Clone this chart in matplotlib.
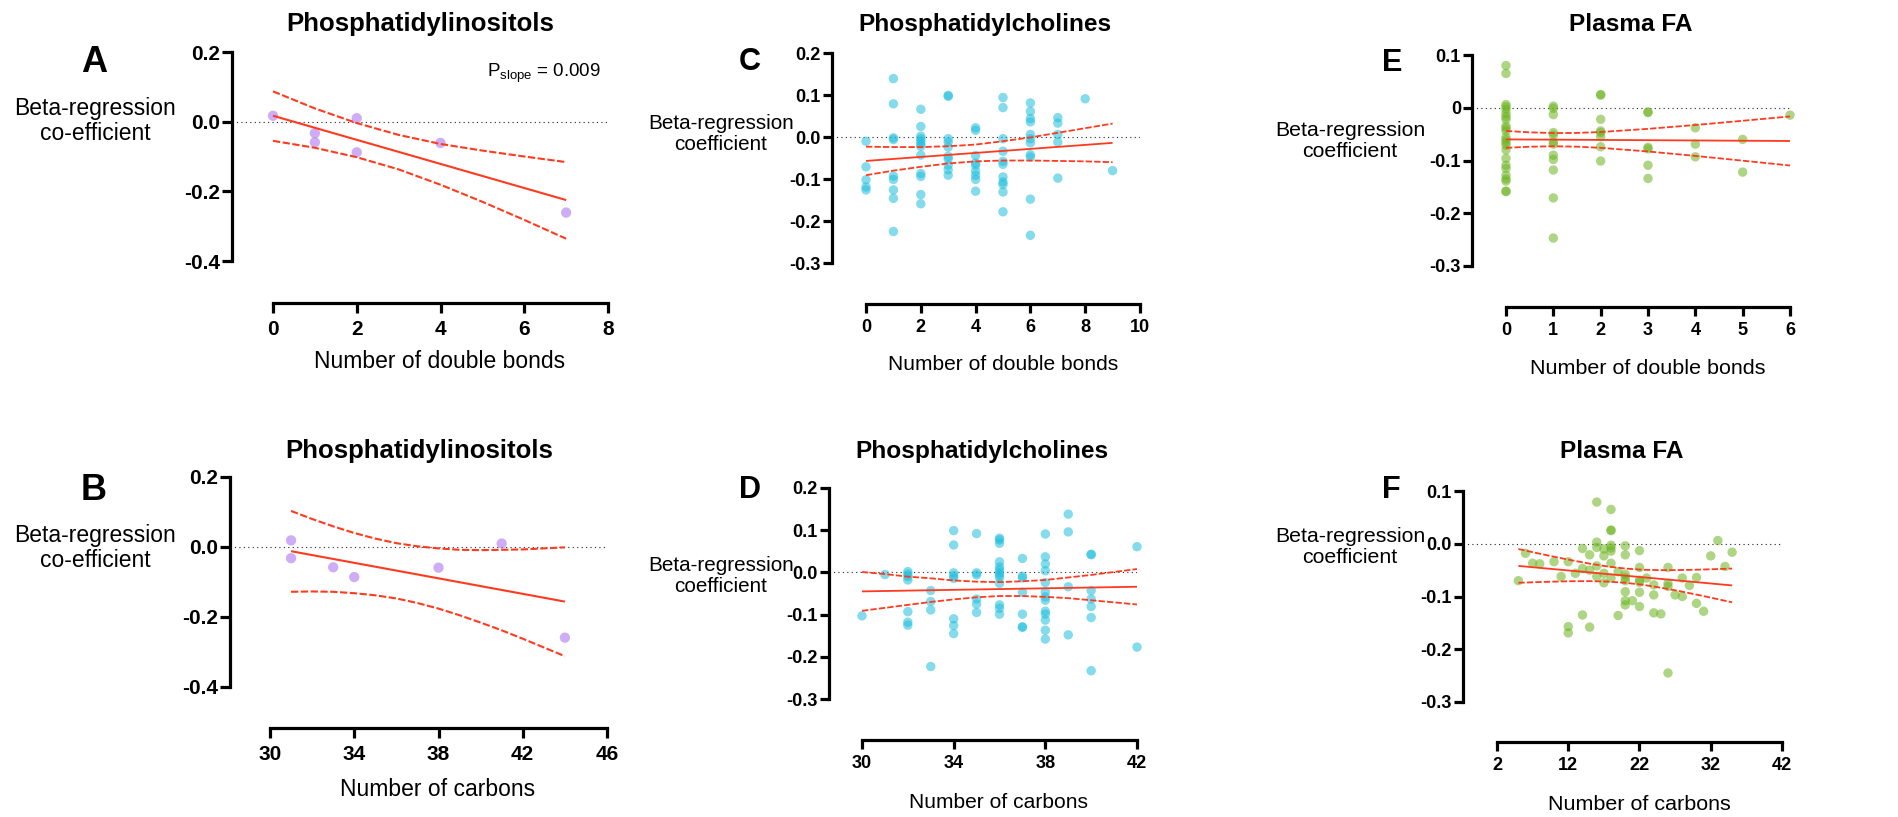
import matplotlib
matplotlib.use('Agg')
import matplotlib.pyplot as plt
from matplotlib import font_manager

W, H = 1899, 817
plt.rcParams['font.family'] = ['Liberation Sans', 'DejaVu Sans']
plt.rcParams['mathtext.fontset'] = 'custom'
plt.rcParams['mathtext.rm'] = 'Liberation Sans'
plt.rcParams['mathtext.it'] = 'Liberation Sans:italic'
plt.rcParams['mathtext.bf'] = 'Liberation Sans:bold'

_names = {f.name for f in font_manager.fontManager.ttflist}
HAS_NARROW = 'Liberation Sans Narrow' in _names
NARROW_FAM = ['Liberation Sans Narrow', 'Liberation Sans', 'DejaVu Sans'] if HAS_NARROW else ['Liberation Sans', 'DejaVu Sans']
# size factor for the condensed right-hand panels
NS = 1.0 if HAS_NARROW else 0.9

# ---------------- data ----------------
# Phosphatidylinositols
pi_db_x = [0, 1, 1, 2, 2, 4, 7]
pi_db_y = [0.017, -0.033, -0.059, 0.010, -0.088, -0.061, -0.261]
pi_db_fit_x = [0, 7]
pi_db_fit_y = [0.017, -0.225]
pi_db_band_x = [0, 1, 2, 3, 4, 5, 6, 7]
pi_db_band_up = [0.087, 0.038, -0.004, -0.038, -0.064, -0.083, -0.100, -0.116]
pi_db_band_lo = [-0.055, -0.075, -0.102, -0.137, -0.181, -0.230, -0.282, -0.336]

pi_c_x = [31, 31, 33, 34, 38, 41, 44]
pi_c_y = [0.019, -0.032, -0.058, -0.086, -0.059, 0.010, -0.259]
pi_c_fit_x = [31, 44]
pi_c_fit_y = [-0.012, -0.156]
pi_c_band_x = [31, 32, 33, 34, 35, 36, 37, 38, 39, 40, 41, 42, 43, 44]
pi_c_band_up = [0.103, 0.080, 0.059, 0.040, 0.024, 0.011, 0.002, -0.004, -0.008, -0.009, -0.008, -0.007, -0.004, -0.001]
pi_c_band_lo = [-0.128, -0.127, -0.128, -0.132, -0.138, -0.147, -0.160, -0.176, -0.195, -0.216, -0.238, -0.262, -0.287, -0.312]

# Phosphatidylcholines
pc_db_x = [0, 0, 0, 0, 0,
           1, 1, 1, 1, 1, 1, 1, 1, 1,
           2, 2, 2, 2, 2, 2, 2, 2, 2, 2, 2, 2,
           3, 3, 3, 3, 3, 3, 3, 3, 3, 3,
           4, 4, 4, 4, 4, 4, 4, 4, 4,
           5, 5, 5, 5, 5, 5, 5, 5, 5, 5, 5,
           6, 6, 6, 6, 6, 6, 6, 6, 6, 6, 6,
           7, 7, 7, 7, 7,
           8,
           9]
pc_db_y = [-0.010, -0.071, -0.102, -0.119, -0.126,
           0.139, 0.079, -0.002, -0.006, -0.093, -0.101, -0.126, -0.146, -0.225,
           0.066, 0.025, 0.002, -0.004, -0.010, -0.016, -0.022, -0.043, -0.087, -0.094, -0.137, -0.159,
           0.099, 0.097, -0.004, -0.012, -0.024, -0.046, -0.052, -0.067, -0.078, -0.091,
           0.022, 0.016, -0.044, -0.062, -0.067, -0.081, -0.091, -0.101, -0.129,
           0.094, 0.070, -0.004, -0.034, -0.058, -0.065, -0.095, -0.107, -0.113, -0.131, -0.178,
           0.081, 0.061, 0.044, 0.036, 0.006, -0.004, -0.014, -0.042, -0.048, -0.148, -0.234,
           0.046, 0.033, 0.006, -0.012, -0.098,
           0.091,
           -0.080]
pc_db_fit_x = [0, 9]
pc_db_fit_y = [-0.057, -0.014]
pc_db_band_x = [0, 1, 2, 3, 4, 5, 6, 7, 8, 9]
pc_db_band_up = [-0.023, -0.024, -0.024, -0.022, -0.018, -0.010, -0.001, 0.010, 0.021, 0.032]
pc_db_band_lo = [-0.091, -0.080, -0.071, -0.063, -0.058, -0.056, -0.056, -0.057, -0.058, -0.060]

pc_c_x = [30,
          31,
          32, 32, 32, 32, 32, 32, 32,
          33, 33, 33, 33,
          34, 34, 34, 34, 34, 34, 34, 34,
          35, 35, 35, 35, 35, 35,
          36, 36, 36, 36, 36, 36, 36, 36, 36, 36, 36, 36, 36,
          37, 37, 37, 37, 37, 37, 37,
          38, 38, 38, 38, 38, 38, 38, 38, 38, 38, 38, 38, 38,
          39, 39, 39, 39,
          40, 40, 40, 40, 40, 40, 40,
          42, 42]
pc_c_y = [-0.103,
          -0.005,
          0.002, -0.004, -0.010, -0.018, -0.093, -0.118, -0.125,
          -0.043, -0.069, -0.089, -0.223,
          0.099, 0.065, -0.001, -0.008, -0.014, -0.110, -0.126, -0.145,
          0.092, -0.001, -0.006, -0.063, -0.075, -0.095,
          0.081, 0.077, 0.069, 0.025, 0.013, 0.006, -0.001, -0.006, -0.012, -0.026, -0.077, -0.085, -0.099,
          0.033, -0.009, -0.013, -0.047, -0.099, -0.129, -0.130,
          0.091, 0.037, 0.020, 0.004, -0.024, -0.046, -0.058, -0.066, -0.092, -0.099, -0.113, -0.137, -0.158,
          0.138, 0.096, -0.034, -0.148,
          0.043, 0.042, -0.043, -0.063, -0.081, -0.107, -0.233,
          0.061, -0.177]
pc_c_fit_x = [30, 42]
pc_c_fit_y = [-0.045, -0.034]
pc_c_band_x = [30, 31, 32, 33, 34, 35, 36, 37, 38, 39, 40, 41, 42]
pc_c_band_up = [0.001, -0.004, -0.010, -0.014, -0.019, -0.022, -0.023, -0.021, -0.018, -0.012, -0.006, 0.001, 0.008]
pc_c_band_lo = [-0.091, -0.084, -0.077, -0.070, -0.064, -0.059, -0.056, -0.056, -0.058, -0.061, -0.066, -0.071, -0.076]

# Plasma FA
fa_db_x = [0, 0, 0, 0, 0, 0, 0, 0, 0, 0, 0, 0, 0, 0, 0, 0, 0, 0, 0, 0, 0, 0, 0, 0,
           1, 1, 1, 1, 1, 1, 1, 1, 1, 1, 1, 1,
           2, 2, 2, 2, 2, 2, 2, 2,
           3, 3, 3, 3, 3, 3,
           4, 4, 4,
           5, 5,
           6]
fa_db_y = [0.080, 0.065, 0.006, 0.002, -0.003, -0.011, -0.017, -0.022, -0.035, -0.039, -0.044, -0.056,
           -0.061, -0.066, -0.071, -0.080, -0.096, -0.109, -0.115, -0.128, -0.135, -0.139, -0.158, -0.159,
           0.003, -0.001, -0.013, -0.047, -0.052, -0.065, -0.069, -0.090, -0.098, -0.118, -0.171, -0.247,
           0.025, 0.024, -0.022, -0.044, -0.047, -0.055, -0.074, -0.101,
           -0.008, -0.009, -0.075, -0.078, -0.109, -0.134,
           -0.038, -0.069, -0.093,
           -0.060, -0.122,
           -0.014]
fa_db_fit_x = [0, 6]
fa_db_fit_y = [-0.060, -0.063]
fa_db_band_x = [0, 0.5, 1, 1.5, 2, 3, 4, 5, 6]
fa_db_band_up = [-0.044, -0.0466, -0.048, -0.0477, -0.046, -0.040, -0.0327, -0.0247, -0.0165]
fa_db_band_lo = [-0.076, -0.0739, -0.073, -0.0738, -0.076, -0.0829, -0.0913, -0.1003, -0.1095]

fa_c_x = [5, 6, 7, 8, 10, 11, 12, 12, 12, 13, 14, 14, 14, 15, 15, 15,
          16, 16, 16, 16, 16, 17, 17, 17, 17, 18, 18, 18, 18, 18, 18, 18, 18,
          19, 19, 20, 20, 20, 20, 20, 20, 20, 20, 21, 22, 22, 22, 22, 22, 22,
          23, 24, 24, 24, 25, 26, 26, 26, 26, 27, 28, 28, 29, 30, 30, 31, 32, 33, 34, 35]
fa_c_y = [-0.070, -0.018, -0.037, -0.038, -0.034, -0.062, -0.034, -0.157, -0.169, -0.056,
          -0.009, -0.047, -0.135, -0.021, -0.050, -0.158,
          0.079, 0.003, -0.007, -0.042, -0.062, -0.010, -0.023, -0.056, -0.074,
          0.065, 0.026, 0.025, -0.003, -0.008, -0.014, -0.037, -0.065,
          -0.053, -0.136, -0.004, -0.021, -0.058, -0.064, -0.070, -0.091, -0.108, -0.116,
          -0.108, -0.013, -0.045, -0.069, -0.073, -0.092, -0.119,
          -0.065, -0.078, -0.097, -0.131, -0.133, -0.045, -0.075, -0.081, -0.245,
          -0.097, -0.065, -0.100, -0.079, -0.064, -0.113, -0.128, -0.023, 0.006, -0.043, -0.016]
fa_c_fit_x = [5, 35]
fa_c_fit_y = [-0.042, -0.079]
fa_c_band_x = [5, 7.5, 10, 12.5, 15, 17.5, 20, 22.5, 25, 27.5, 30, 32.5, 35]
fa_c_band_up = [-0.010, -0.0174, -0.0246, -0.0314, -0.0377, -0.0431, -0.0470, -0.0493, -0.0501, -0.0499, -0.0492, -0.0482, -0.047]
fa_c_band_lo = [-0.074, -0.0728, -0.0718, -0.0710, -0.0709, -0.0717, -0.0740, -0.0779, -0.0833, -0.0895, -0.0964, -0.1036, -0.111]

# ticks
yt_pi = [-0.4, -0.2, 0.0, 0.2]
ytl_pi = ['-0.4', '-0.2', '0.0', '0.2']
yt_pc = [-0.3, -0.2, -0.1, 0.0, 0.1, 0.2]
ytl_pc = ['-0.3', '-0.2', '-0.1', '0.0', '0.1', '0.2']
yt_fa = [-0.3, -0.2, -0.1, 0.0, 0.1]
ytl_fa_db = ['-0.3', '-0.2', '-0.1', '0', '0.1']
ytl_fa_c = ['-0.3', '-0.2', '-0.1', '0.0', '0.1']
xt_pi_db = [0, 2, 4, 6, 8]
xt_pi_c = [30, 34, 38, 42, 46]
xt_pc_db = [0, 2, 4, 6, 8, 10]
xt_pc_c = [30, 34, 38, 42]
xt_fa_db = [0, 1, 2, 3, 4, 5, 6]
xt_fa_c = [2, 12, 22, 32, 42]

# ---------------- styling ----------------
RED = '#FF3A1E'
PURPLE = '#A66BF0'
CYAN = '#1FBEDD'
GREEN = '#6CB420'

fig = plt.figure(figsize=(W / 100, H / 100), dpi=100)


def ftext(x, y, s, **kw):
    fig.text(x / W, 1 - y / H, s, **kw)


def panel(lay, x, y, fx, fy, bx, bu, bl, yt, ytl, xt, color, big):
    spine_x, x0p, x1p, ytop, ybot, xaxis = lay
    ax = fig.add_axes([spine_x / W, 1 - ybot / H, (x1p - spine_x) / W, (ybot - ytop) / H])
    xl = xt[0] - (x0p - spine_x) * (xt[-1] - xt[0]) / (x1p - x0p)
    ax.set_xlim(xl, xt[-1])
    ax.set_ylim(yt[0], yt[-1])
    for s in ('top', 'right'):
        ax.spines[s].set_visible(False)
    lw_sp = 2.3
    ax.spines['left'].set_linewidth(lw_sp)
    ax.spines['bottom'].set_linewidth(lw_sp)
    ax.spines['left'].set_bounds(yt[0], yt[-1])
    ax.spines['bottom'].set_position(('outward', (xaxis - ybot) * 0.72))
    ax.spines['bottom'].set_bounds(xt[0], xt[-1])
    ax.spines['left'].set_capstyle('projecting')
    ax.spines['bottom'].set_capstyle('projecting')
    tl = 7.0 if big else 6.5
    fam = ['Liberation Sans', 'DejaVu Sans'] if big else NARROW_FAM
    tsz = 15 if big else 14.5 * NS
    ax.set_xticks(xt)
    ax.set_xticklabels([str(v) for v in xt], fontweight='bold', fontsize=tsz, family=fam)
    ax.set_yticks(yt)
    ax.set_yticklabels(ytl, fontweight='bold', fontsize=tsz, family=fam)
    ax.tick_params(axis='both', direction='out', length=tl, width=lw_sp)
    ax.tick_params(axis='y', pad=1.5)
    ax.tick_params(axis='x', pad=5 if big else 4)
    ax.patch.set_alpha(0)
    ax.axhline(0, color='#222222', lw=0.8, ls=(0, (1, 3)), zorder=1)
    ax.scatter(x, y, s=55 if big else 46, color=color, alpha=0.55, edgecolors='none',
               clip_on=False, zorder=2)
    lw = 1.5 if big else 1.3
    ax.plot(fx, fy, color=RED, lw=lw, zorder=3, solid_capstyle='butt')
    ax.plot(bx, bu, color=RED, lw=lw, ls=(0, (3.5, 1.2)), zorder=3)
    ax.plot(bx, bl, color=RED, lw=lw, ls=(0, (3.5, 1.2)), zorder=3)
    return ax


# layouts: spine_x, first-x-tick px, last-x-tick px, y top px, y bottom px, x-axis px
panel((232, 273, 608, 52, 261, 303), pi_db_x, pi_db_y, pi_db_fit_x, pi_db_fit_y,
      pi_db_band_x, pi_db_band_up, pi_db_band_lo, yt_pi, ytl_pi, xt_pi_db, PURPLE, True)
panel((230, 270, 607, 477, 687, 728), pi_c_x, pi_c_y, pi_c_fit_x, pi_c_fit_y,
      pi_c_band_x, pi_c_band_up, pi_c_band_lo, yt_pi, ytl_pi, xt_pi_c, PURPLE, True)
panel((832, 866, 1140, 53, 263, 304), pc_db_x, pc_db_y, pc_db_fit_x, pc_db_fit_y,
      pc_db_band_x, pc_db_band_up, pc_db_band_lo, yt_pc, ytl_pc, xt_pc_db, CYAN, False)
panel((829, 862, 1137, 488, 699, 740), pc_c_x, pc_c_y, pc_c_fit_x, pc_c_fit_y,
      pc_c_band_x, pc_c_band_up, pc_c_band_lo, yt_pc, ytl_pc, xt_pc_c, CYAN, False)
panel((1472, 1506, 1790, 55, 266, 307), fa_db_x, fa_db_y, fa_db_fit_x, fa_db_fit_y,
      fa_db_band_x, fa_db_band_up, fa_db_band_lo, yt_fa, ytl_fa_db, xt_fa_db, GREEN, False)
panel((1463, 1497, 1782, 491, 702, 742), fa_c_x, fa_c_y, fa_c_fit_x, fa_c_fit_y,
      fa_c_band_x, fa_c_band_up, fa_c_band_lo, yt_fa, ytl_fa_c, xt_fa_c, GREEN, False)

REG = ['Liberation Sans', 'DejaVu Sans']

# titles
tb = dict(fontweight='bold', ha='center', va='baseline')
ftext(420, 31, 'Phosphatidylinositols', fontsize=18.5, family=REG, **tb)
ftext(419, 458, 'Phosphatidylinositols', fontsize=18.5, family=REG, **tb)
ftext(985, 31, 'Phosphatidylcholines', fontsize=19.5 * NS, family=NARROW_FAM, **tb)
ftext(982, 458, 'Phosphatidylcholines', fontsize=19.5 * NS, family=NARROW_FAM, **tb)
ftext(1631, 31, 'Plasma FA', fontsize=19.5 * NS, family=NARROW_FAM, **tb)
ftext(1622, 458, 'Plasma FA', fontsize=19.5 * NS, family=NARROW_FAM, **tb)

# panel letters
lb = dict(fontweight='bold', ha='center', va='baseline')
ftext(94, 72, 'A', fontsize=26, family=REG, **lb)
ftext(94, 500, 'B', fontsize=26, family=REG, **lb)
ftext(750, 70, 'C', fontsize=24.5 * NS, family=NARROW_FAM, **lb)
ftext(750, 498, 'D', fontsize=24.5 * NS, family=NARROW_FAM, **lb)
ftext(1392, 71, 'E', fontsize=24.5 * NS, family=NARROW_FAM, **lb)
ftext(1391, 498, 'F', fontsize=24.5 * NS, family=NARROW_FAM, **lb)

# y labels
yl = dict(ha='center', va='center', multialignment='center', linespacing=1.15)
ftext(95, 121, 'Beta-regression\nco-efficient', fontsize=16.5, family=REG, **yl)
ftext(95, 548, 'Beta-regression\nco-efficient', fontsize=16.5, family=REG, **yl)
ftext(721, 134, 'Beta-regression\ncoefficient', fontsize=16.5 * NS, family=NARROW_FAM, **yl)
ftext(721, 576, 'Beta-regression\ncoefficient', fontsize=16.5 * NS, family=NARROW_FAM, **yl)
ftext(1350, 141, 'Beta-regression\ncoefficient', fontsize=17 * NS, family=NARROW_FAM, **yl)
ftext(1350, 547, 'Beta-regression\ncoefficient', fontsize=17 * NS, family=NARROW_FAM, **yl)

# x labels
xlk = dict(ha='center', va='center')
ftext(440, 362, 'Number of double bonds', fontsize=16.5, family=REG, **xlk)
ftext(438, 790, 'Number of carbons', fontsize=16.5, family=REG, **xlk)
ftext(1003, 364, 'Number of double bonds', fontsize=16.8 * NS, family=NARROW_FAM, **xlk)
ftext(999, 802, 'Number of carbons', fontsize=16.8 * NS, family=NARROW_FAM, **xlk)
ftext(1648, 369, 'Number of double bonds', fontsize=17.2 * NS, family=NARROW_FAM, **xlk)
ftext(1639, 805, 'Number of carbons', fontsize=17.2 * NS, family=NARROW_FAM, **xlk)

# P value
ftext(601, 77, r'P$_{\mathrm{slope}}$ = 0.009', fontsize=13.5, family=REG, ha='right', va='baseline')

fig.savefig('out.png', dpi=100)
